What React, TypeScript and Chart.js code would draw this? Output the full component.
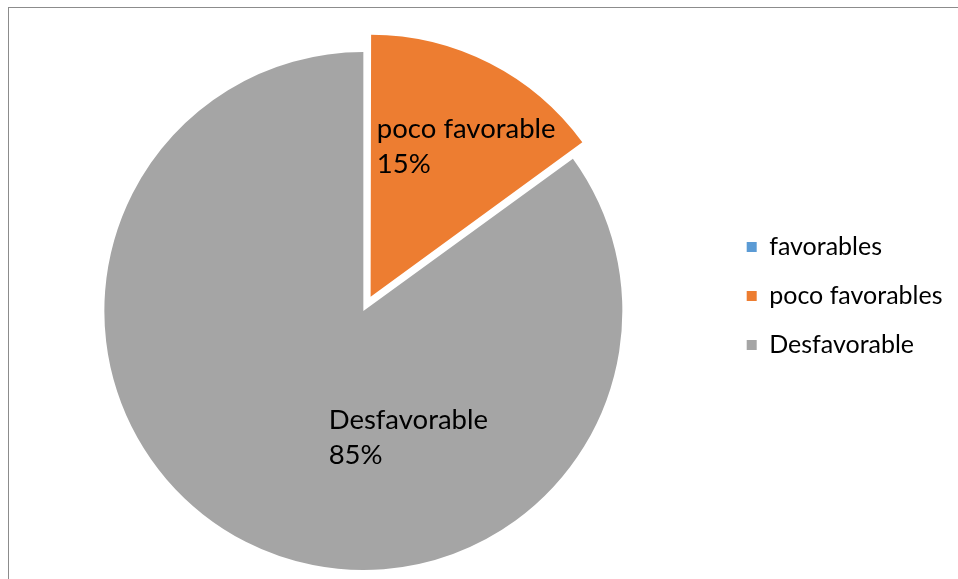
import React, { useEffect, useRef } from 'react';
import { Chart, registerables } from 'chart.js';

Chart.register(...registerables);

const categories = ['favorables', 'poco favorables', 'Desfavorable'];
const values = [0, 15, 85];
const labelNames = ['favorable', 'poco favorable', 'Desfavorable'];
const colors = ['#5B9BD5', '#ED7D31', '#A5A5A5'];
const explode = [0, 64, 0];

const FONT = 'Lato';

const sliceLabelPlugin = {
  id: 'sliceLabels',
  afterDatasetsDraw(chart: any, _args: any, opts: any) {
    const meta = chart.getDatasetMeta(0);
    const ctx = chart.ctx;
    const total = values.reduce((a, b) => a + b, 0);
    meta.data.forEach((arc: any, i: number) => {
      const v = values[i];
      if (!v) return;
      const p = arc.getProps(['x', 'y', 'startAngle', 'endAngle', 'outerRadius'], true);
      const place = opts.placements[i];
      const a = p.startAngle + (p.endAngle - p.startAngle) * place.angleFrac;
      const r = p.outerRadius * place.radiusFrac;
      const cx = p.x + Math.cos(a) * r;
      const cy = p.y + Math.sin(a) * r;
      const lines = [labelNames[i], Math.round((v / total) * 100) + '%'];
      ctx.save();
      ctx.font = `${opts.size}px ${FONT}`;
      ctx.fillStyle = opts.color;
      ctx.textAlign = 'left';
      ctx.textBaseline = 'middle';
      const w = Math.max(...lines.map((l) => ctx.measureText(l).width));
      const lh = opts.lineHeight;
      const top = cy - (lh * (lines.length - 1)) / 2;
      lines.forEach((l, k) => ctx.fillText(l, cx - w / 2, top + k * lh));
      ctx.restore();
    });
  },
};

export default function App() {
  const ref = useRef<HTMLCanvasElement | null>(null);

  useEffect(() => {
    document.body.style.overflow = 'hidden';
    const canvas = ref.current;
    if (!canvas) return;
    const chart = new Chart(canvas, {
      type: 'pie',
      data: {
        labels: categories,
        datasets: [
          {
            data: values,
            backgroundColor: colors,
            borderWidth: 0,
            offset: explode,
            radius: 259,
            clip: false,
          } as any,
        ],
      },
      options: {
        responsive: false,
        animation: false,
        devicePixelRatio: 1,
        layout: { padding: { left: 4, right: 5.5, top: 210.5, bottom: 167.5 } },
        plugins: {
          tooltip: { enabled: false },
          legend: {
            position: 'right',
            align: 'start',
            labels: {
              boxWidth: 10,
              boxHeight: 10,
              padding: 24,
              color: '#000000',
              font: { family: FONT, size: 25, lineHeight: 1 },
            },
          },
          sliceLabels: {
            placements: [
              { angleFrac: 0.5, radiusFrac: 0.6 },
              { angleFrac: 0.594, radiusFrac: 0.748 },
              { angleFrac: 0.348, radiusFrac: 0.52 },
            ],
            size: 27.5,
            lineHeight: 35,
            color: '#000000',
          },
        } as any,
      },
      plugins: [sliceLabelPlugin],
    });
    return () => chart.destroy();
  }, []);

  return (
    <div style={{ position: 'fixed', left: 0, top: 0, width: 958, height: 579, overflow: 'hidden', background: '#ffffff' }}>
      <div
        style={{
          position: 'absolute',
          left: 8,
          top: 7,
          width: 1000,
          height: 1000,
          border: '1px solid #8c8c8c',
        }}
      />
      <canvas ref={ref} width={958} height={579} style={{ position: 'absolute', left: 0, top: 0 }} />
    </div>
  );
}
